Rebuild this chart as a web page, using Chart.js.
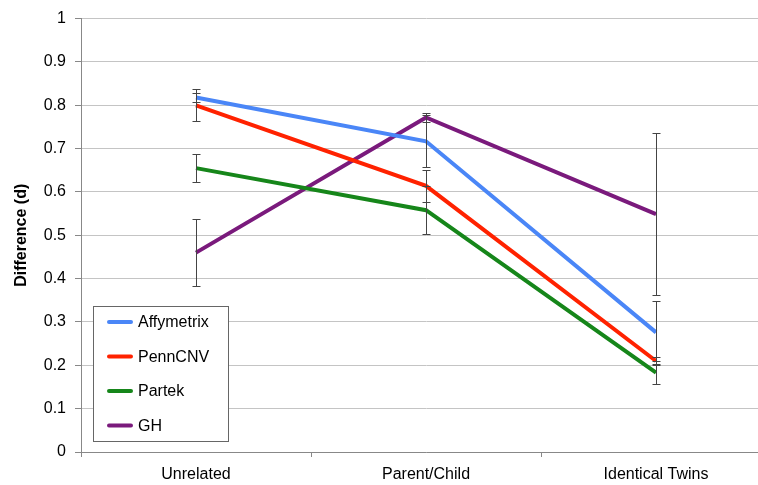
<!DOCTYPE html>
<html>
<head>
<meta charset="utf-8">
<script src="https://cdn.jsdelivr.net/npm/chart.js@4.4.0/dist/chart.umd.min.js"></script>
<style>
    html, body { margin: 0; padding: 0; background: #fff; overflow: hidden; }
    #wrap { width: 771px; height: 485px; }
</style>
</head>
<body>
<div id="wrap"><canvas id="diffChart"></canvas></div>
<script>
const categories = ['Unrelated', 'Parent/Child', 'Identical Twins'];
const yTicks = [0, 0.1, 0.2, 0.3, 0.4, 0.5, 0.6, 0.7, 0.8, 0.9, 1];

const affymetrix = [0.818, 0.717, 0.276];
const pennCNV = [0.800, 0.614, 0.210];
const partek = [0.655, 0.558, 0.183];
const gh = [0.460, 0.772, 0.549];

const affymetrixErr = [0.010, 0.060, 0.072];
const pennCNVErr = [0.037, 0.037, 0.010];
const partekErr = [0.033, 0.056, 0.027];
const ghErr = [0.078, 0.010, 0.186];

const errorBars = {
    id: 'errorBars',
    afterDatasetsDraw(chart) {
        const ctx = chart.ctx;
        const y = chart.scales.y;
        ctx.save();
        ctx.strokeStyle = '#444';
        ctx.lineWidth = 1;
        chart.data.datasets.forEach((ds, i) => {
            const meta = chart.getDatasetMeta(i);
            meta.data.forEach((pt, j) => {
                const e = ds.errors[j];
                const v = ds.data[j];
                const top = Math.round(y.getPixelForValue(v + e)) + 0.5;
                const bot = Math.round(y.getPixelForValue(v - e)) + 0.5;
                const x = Math.round(pt.x) + 0.5;
                ctx.beginPath();
                ctx.moveTo(x, top); ctx.lineTo(x, bot);
                ctx.moveTo(x - 4, top); ctx.lineTo(x + 4, top);
                ctx.moveTo(x - 4, bot); ctx.lineTo(x + 4, bot);
                ctx.stroke();
            });
        });
        ctx.restore();
    }
};

const boxLegend = {
    id: 'boxLegend',
    afterDraw(chart) {
        const ctx = chart.ctx;
        ctx.save();
        ctx.fillStyle = '#fff';
        ctx.fillRect(93, 306, 135, 135);
        ctx.strokeStyle = '#666';
        ctx.lineWidth = 1;
        ctx.strokeRect(93.5, 306.5, 135, 135);
        ctx.font = '16px "Liberation Sans", Arial, sans-serif';
        ctx.textBaseline = 'middle';
        chart.data.datasets.forEach((ds, i) => {
            const cy = 322 + i * 34.5;
            ctx.strokeStyle = ds.borderColor;
            ctx.lineWidth = 4;
            ctx.lineCap = 'round';
            ctx.beginPath();
            ctx.moveTo(109, cy); ctx.lineTo(131, cy);
            ctx.stroke();
            ctx.fillStyle = '#000';
            ctx.fillText(ds.label, 138, cy + 1);
        });
        ctx.restore();
    }
};

function series(label, data, errors, color) {
    return {
        label: label,
        data: data,
        errors: errors,
        borderColor: color,
        backgroundColor: color,
        borderWidth: 4,
        pointRadius: 0,
        tension: 0,
        fill: false
    };
}

new Chart(document.getElementById('diffChart'), {
    type: 'line',
    data: {
        labels: categories,
        datasets: [
            series('Affymetrix', affymetrix, affymetrixErr, '#4a86f7'),
            series('PennCNV', pennCNV, pennCNVErr, '#ff2200'),
            series('Partek', partek, partekErr, '#16861a'),
            series('GH', gh, ghErr, '#7a1a7c')
        ]
    },
    options: {
        responsive: true,
        maintainAspectRatio: false,
        animation: false,
        layout: { padding: { top: 17, right: 0, left: 0, bottom: 0 } },
        plugins: {
            legend: { display: false },
            tooltip: { enabled: false }
        },
        scales: {
            x: {
                offset: true,
                grid: {
                    offset: true,
                    drawOnChartArea: false,
                    color: '#888',
                    tickLength: 5
                },
                border: { color: '#888', width: 1 },
                ticks: {
                    color: '#000',
                    font: { family: '"Liberation Sans", Arial, sans-serif', size: 16 },
                    padding: 8,
                    maxRotation: 0
                },
                afterFit(scale) { scale.height = 33; }
            },
            y: {
                min: 0,
                max: 1,
                afterBuildTicks(scale) {
                    scale.ticks = yTicks.map(v => ({ value: v }));
                },
                grid: {
                    color: '#c4c4c4',
                    tickLength: 6,
                    tickColor: '#888'
                },
                border: { color: '#888', width: 1 },
                ticks: {
                    color: '#000',
                    font: { family: '"Liberation Sans", Arial, sans-serif', size: 16 },
                    padding: 9,
                    callback: v => String(Math.round(v * 10) / 10)
                },
                title: {
                    display: true,
                    text: 'Difference (d)',
                    color: '#000',
                    font: { family: '"Liberation Sans", Arial, sans-serif', size: 16, weight: 'bold' },
                    padding: { top: 12, bottom: 4 }
                },
                afterFit(scale) { scale.width = 81; }
            }
        }
    },
    plugins: [errorBars, boxLegend]
});
</script>
</body>
</html>
